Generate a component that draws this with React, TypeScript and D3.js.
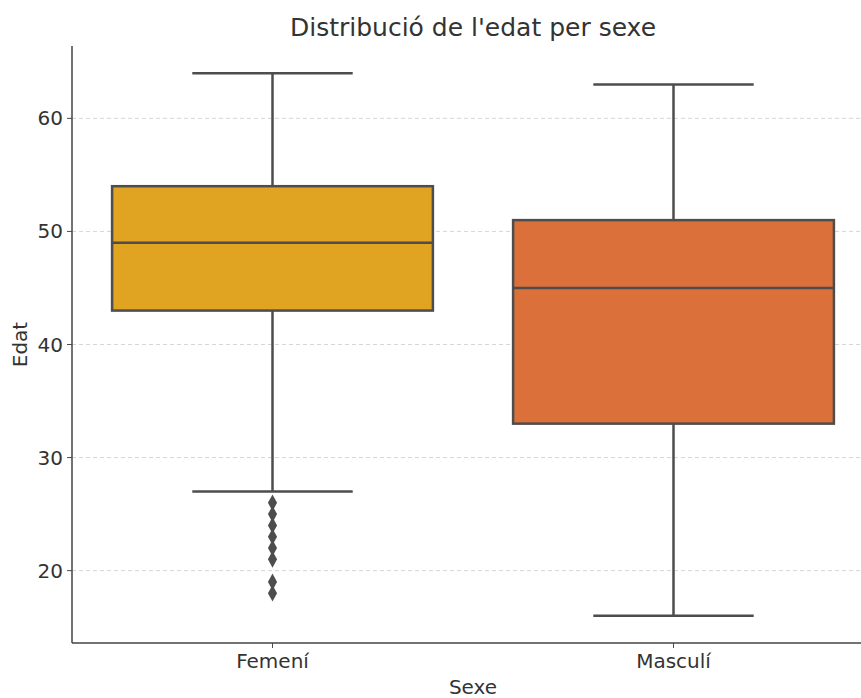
import React from "react";
import * as d3 from "d3";

const categories = ["Femení", "Masculí"];
const whiskerLow = [27, 16];
const q1 = [43, 33];
const medians = [49, 45];
const q3 = [54, 51];
const whiskerHigh = [64, 63];
const outliersFem = [26, 25, 24, 23, 22, 21, 19, 18];
const outliersMasc: number[] = [];
const outliers = [outliersFem, outliersMasc];
const colors = ["#E0A322", "#DB703B"];
const yTicks = [20, 30, 40, 50, 60];

const W = 861;
const H = 698;
const left = 72;
const right = 874;
const top = 46;
const bottom = 643;
const lineColor = "#4d4d4d";
const font = "DejaVu Sans, sans-serif";

export default function App() {
  const y = d3.scaleLinear().domain([13.6, 66.4]).range([bottom, top]);
  const x = d3.scaleBand().domain(categories).range([left, right]).paddingInner(0).paddingOuter(0);
  const bw = x.bandwidth();
  const boxW = bw * 0.8;
  const capW = boxW / 2;

  const diamond = d3.symbol().type(d3.symbolDiamond).size(80)()!;

  return (
    <svg width={W} height={H} style={{ position: "absolute", left: 0, top: 0 }}>
      <rect x={0} y={0} width={W} height={H} fill="#fff" />
      {yTicks.map((t) => (
        <line key={"g" + t} x1={left} x2={right} y1={y(t)} y2={y(t)} stroke="#cccccc" strokeWidth={0.8} strokeDasharray="4,3" />
      ))}
      {categories.map((c, i) => {
        const cx = x(c)! + bw / 2;
        return (
          <g key={c}>
            <line x1={cx} x2={cx} y1={y(q3[i])} y2={y(whiskerHigh[i])} stroke={lineColor} strokeWidth={2.5} />
            <line x1={cx} x2={cx} y1={y(q1[i])} y2={y(whiskerLow[i])} stroke={lineColor} strokeWidth={2.5} />
            <line x1={cx - capW / 2} x2={cx + capW / 2} y1={y(whiskerHigh[i])} y2={y(whiskerHigh[i])} stroke={lineColor} strokeWidth={2.5} />
            <line x1={cx - capW / 2} x2={cx + capW / 2} y1={y(whiskerLow[i])} y2={y(whiskerLow[i])} stroke={lineColor} strokeWidth={2.5} />
            <rect x={cx - boxW / 2} y={y(q3[i])} width={boxW} height={y(q1[i]) - y(q3[i])} fill={colors[i]} stroke={lineColor} strokeWidth={2.5} />
            <line x1={cx - boxW / 2} x2={cx + boxW / 2} y1={y(medians[i])} y2={y(medians[i])} stroke={lineColor} strokeWidth={2.5} />
            {outliers[i].map((o, j) => (
              <path key={j} d={diamond} transform={`translate(${cx},${y(o)}) scale(0.95,1)`} fill={lineColor} />
            ))}
            <line x1={cx} x2={cx} y1={bottom} y2={bottom + 5} stroke={lineColor} strokeWidth={1} />
            <text x={cx} y={668} textAnchor="middle" fontFamily={font} fontSize={20} fill="#333">{c}</text>
          </g>
        );
      })}
      {yTicks.map((t) => (
        <g key={"t" + t}>
          <line x1={left - 5} x2={left} y1={y(t)} y2={y(t)} stroke={lineColor} strokeWidth={1} />
          <text x={left - 9} y={y(t)} dy="0.35em" textAnchor="end" fontFamily={font} fontSize={20} fill="#333">{t}</text>
        </g>
      ))}
      <line x1={left} x2={left} y1={top} y2={bottom} stroke="#444" strokeWidth={1.5} />
      <line x1={left} x2={right} y1={bottom} y2={bottom} stroke="#444" strokeWidth={1.5} />
      <text x={(left + right) / 2} y={36} textAnchor="middle" fontFamily={font} fontSize={25} fill="#333">Distribució de l'edat per sexe</text>
      <text x={(left + right) / 2} y={694} textAnchor="middle" fontFamily={font} fontSize={20} fill="#333">Sexe</text>
      <text transform={`translate(27,${(top + bottom) / 2}) rotate(-90)`} textAnchor="middle" fontFamily={font} fontSize={20} fill="#333">Edat</text>
    </svg>
  );
}
